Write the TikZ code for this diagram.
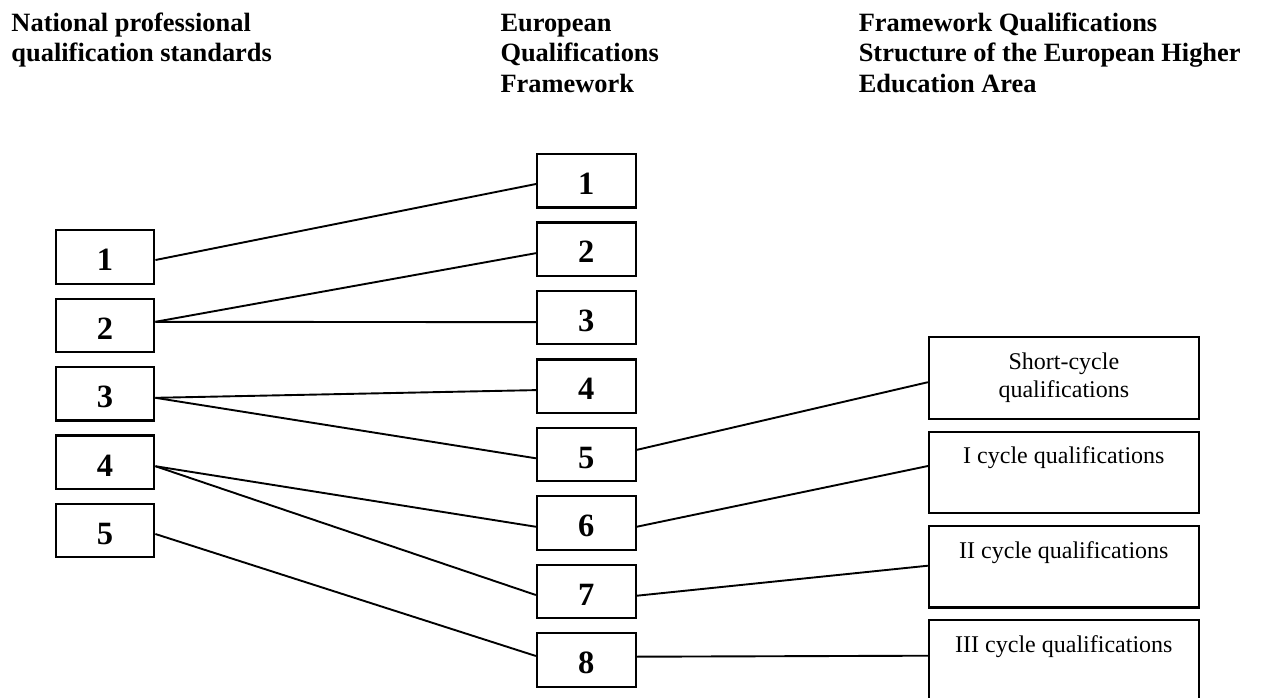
\documentclass[tikz,border=0pt]{standalone}
\usepackage{fontspec}
\setmainfont{Liberation Serif}
\usetikzlibrary{calc}
\begin{document}
\begin{tikzpicture}[x=1pt,y=-1pt,
  head/.style={anchor=base west, inner sep=0pt, font=\fontsize{26.4}{30.5}\selectfont\bfseries},
  numbox/.style={draw, line width=2.2pt, minimum width=98.6pt, minimum height=53.4pt,
    inner sep=0pt, text height=27.6pt, text depth=0pt,
    font=\fontsize{32.5}{32.5}\selectfont\bfseries},
  cyclebox/.style={draw, line width=2.2pt, minimum width=269.7pt, minimum height=81.7pt, inner sep=0pt},
  cycletext/.style={anchor=base, inner sep=0pt, font=\fontsize{24}{27.6}\selectfont},
  link/.style={line width=1.9pt}]
\useasboundingbox (0,0) rectangle (1263,697);
\fill[white] (0,0) rectangle (1263,697);

% column headings
\node[head] (h1a) at (11.3,31) {National professional};
\node[head] (h1b) at (11.3,61.5) {qualification standards};
\node[head] (h2a) at (500.3,31) {European};
\node[head] (h2b) at (500.3,61.5) {Qualifications};
\node[head] (h2c) at (500.3,92) {Framework};
\node[head] (h3a) at (858.6,31) {Framework Qualifications};
\node[head] (h3b) at (858.6,61.5) {Structure of the European Higher};
\node[head] (h3c) at (858.6,92) {Education Area};

% national levels
\foreach \i in {1,...,5}
  \node[numbox] (L\i) at (105, {257+68.4*(\i-1)}) {\i};

% European levels
\foreach \i in {1,...,8}
  \node[numbox] (M\i) at (586.3, {180.7+68.47*(\i-1)}) {\i};

% higher education cycles
\node[cyclebox] (R1) at (1063.85,378.2) {};
\node[cyclebox] (R2) at (1063.85,472.5) {};
\node[cyclebox] (R3) at (1063.85,566.7) {};
\node[cyclebox] (R4) at (1063.85,661) {};
\node[cycletext] (t1a) at ($(R1.north)+(0,33.3)$) {Short-cycle};
\node[cycletext] (t1b) at ($(R1.north)+(0,60.9)$) {qualifications};
\node[cycletext] (t2) at ($(R2.north)+(0,33.3)$) {I cycle qualifications};
\node[cycletext] (t3) at ($(R3.north)+(0,33.3)$) {II cycle qualifications};
\node[cycletext] (t4) at ($(R4.north)+(0,33.0)$) {III cycle qualifications};

% national -> European
\draw[link] ($(L1.east)+(0,3)$) -- ($(M1.west)+(0,3.3)$);
\draw[link] ($(L2.east)+(0,-3.6)$) -- ($(M2.west)+(0,4)$);
\draw[link] ($(L2.east)+(0,-3.6)$) -- ($(M3.west)+(0,4.5)$);
\draw[link] ($(L3.east)+(0,4)$) -- ($(M4.west)+(0,4)$);
\draw[link] ($(L3.east)+(0,4)$) -- ($(M5.west)+(0,3.7)$);
\draw[link] ($(L4.east)+(0,4)$) -- ($(M6.west)+(0,3.7)$);
\draw[link] ($(L4.east)+(0,4)$) -- ($(M7.west)+(0,3.5)$);
\draw[link] ($(L5.east)+(0,3.4)$) -- ($(M8.west)+(0,-4)$);

% European -> higher education cycles
\draw[link] ($(M5.east)+(0,-4.7)$) -- ($(R1.west)+(0,4)$);
\draw[link] ($(M6.east)+(0,3.7)$) -- ($(R2.west)+(0,-6.5)$);
\draw[link] ($(M7.east)+(0,4.2)$) -- ($(R3.west)+(0,-1)$);
\draw[link] ($(M8.east)+(0,-3.3)$) -- ($(R4.west)+(0,-5.3)$);
\end{tikzpicture}
\end{document}
